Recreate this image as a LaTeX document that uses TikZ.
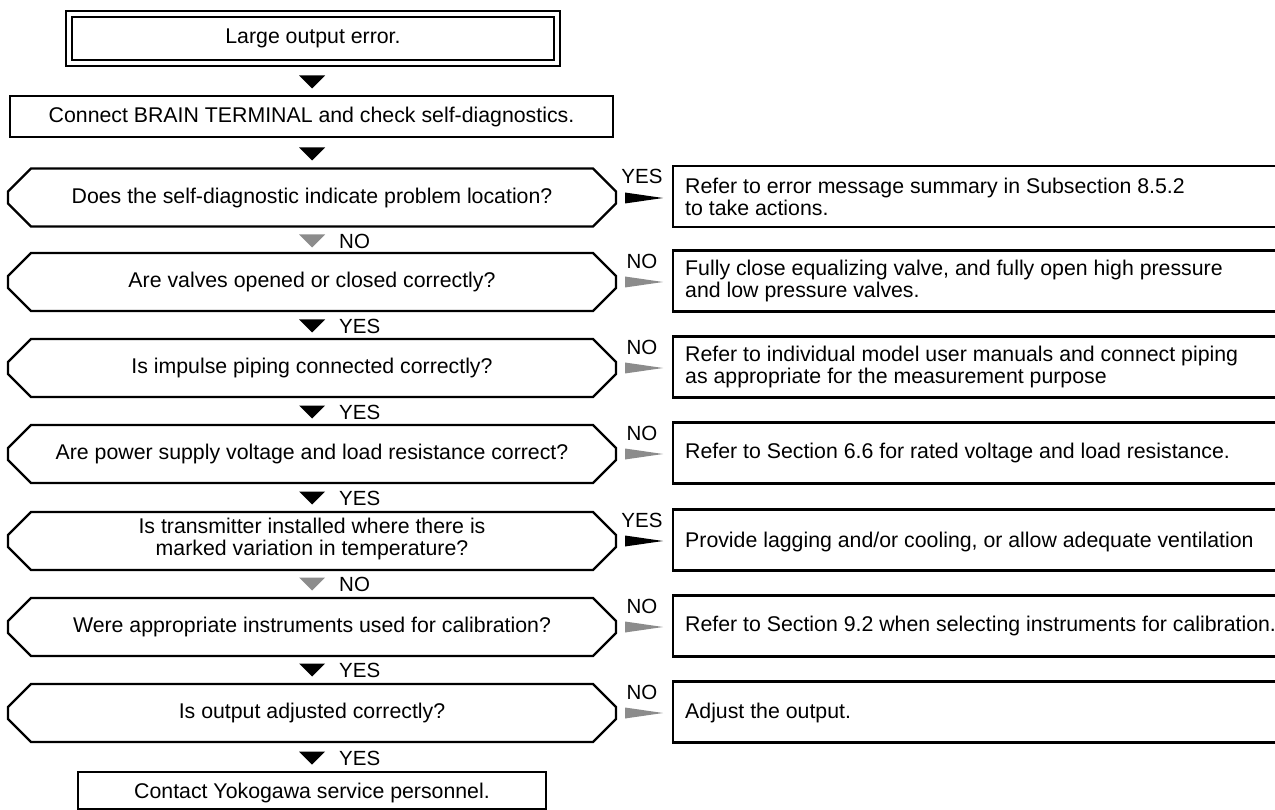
\documentclass[tikz,border=0pt]{standalone}
\usepackage{fontspec}
\setmainfont{Liberation Sans}
\begin{document}
\begin{tikzpicture}[x=1pt,y=-1pt]
\definecolor{arrgray}{gray}{0.55}
\tikzset{
  ln/.style={line width=2.3pt, line join=miter},
  txt/.style={font=\fontsize{21.3}{22}\selectfont, inner sep=0pt, align=center},
  rtxt/.style={font=\fontsize{21.3}{22}\selectfont, inner sep=0pt, align=left, anchor=west},
  lbl/.style={font=\fontsize{20.5}{22}\selectfont, inner sep=0pt},
}
\useasboundingbox (0,0) rectangle (1275,810);
\fill[white] (0,0) rectangle (1275,810);
% decision shape
\newcommand\decshape[1]{\draw[ln] (31,#1-29) -- (593,#1-29) -- (616,#1-6) -- (616,#1+6) -- (593,#1+29) -- (31,#1+29) -- (8,#1+6) -- (8,#1-6) -- cycle;}
\newcommand\rbox[1]{\draw[ln] (1278,#1-31.5) -- (673,#1-31.5) -- (673,#1+29.5) -- (1278,#1+29.5);}
\newcommand\rarr[2]{\fill[#2] (625,#1-5.5) -- (663,#1) -- (625,#1+5.5) -- cycle;}
\newcommand\darr[2]{\fill[#2] (299,#1-6.5) -- (325,#1-6.5) -- (312,#1+6.5) -- cycle;}

% top boxes
\draw[ln] (66,11) rectangle (560,66);
\draw[ln] (72,17) rectangle (554,60);
\node[txt] (start) at (313,38.5) {Large output error.};
\darr{82}{black}
\draw[ln] (10,96) rectangle (613,137);
\node[txt] (brain) at (311.5,116.5) {Connect BRAIN TERMINAL and check self-diagnostics.};
\darr{154}{black}

% row 1
\decshape{197.5}
\node[txt] (d1) at (312,197.5) {Does the self-diagnostic indicate problem location?};
\rarr{198}{black}
\node[lbl] (y1) at (642,176) {YES};
\rbox{197.5}
\node[rtxt] (r1) at (685,196.5) {Refer to error message summary in Subsection 8.5.2\\to take actions.};
\darr{241}{arrgray}
\node[lbl,anchor=west] (n1) at (339,241) {NO};

% row 2
\decshape{282}
\node[txt] (d2) at (312,282) {Are valves opened or closed correctly?};
\rarr{282}{arrgray}
\node[lbl] (y2) at (642,261) {NO};
\rbox{282}
\node[rtxt] (r2) at (685,281) {Fully close equalizing valve, and fully open high pressure\\and low pressure valves.};
\darr{326}{black}
\node[lbl,anchor=west] (n2) at (339,326) {YES};

% row 3
\decshape{368}
\node[txt] (d3) at (312,368) {Is impulse piping connected correctly?};
\rarr{368}{arrgray}
\node[lbl] (y3) at (642,347) {NO};
\rbox{368}
\node[rtxt] (r3) at (685,367) {Refer to individual model user manuals and connect piping\\as appropriate for the measurement purpose};
\darr{412}{black}
\node[lbl,anchor=west] (n3) at (339,412) {YES};

% row 4
\decshape{454}
\node[txt] (d4) at (312,454) {Are power supply voltage and load resistance correct?};
\rarr{454}{arrgray}
\node[lbl] (y4) at (642,433) {NO};
\rbox{454}
\node[rtxt] (r4) at (685,453) {Refer to Section 6.6 for rated voltage and load resistance.};
\darr{498}{black}
\node[lbl,anchor=west] (n4) at (339,498) {YES};

% row 5
\decshape{541}
\node[txt] (d5) at (312,539) {Is transmitter installed where there is\\marked variation in temperature?};
\rarr{541}{black}
\node[lbl] (y5) at (642,520) {YES};
\rbox{541}
\node[rtxt] (r5) at (685,542) {Provide lagging and/or cooling, or allow adequate ventilation};
\darr{584}{arrgray}
\node[lbl,anchor=west] (n5) at (339,584) {NO};

% row 6
\decshape{627}
\node[txt] (d6) at (312,627) {Were appropriate instruments used for calibration?};
\rarr{627}{arrgray}
\node[lbl] (y6) at (642,606) {NO};
\rbox{627}
\node[rtxt] (r6) at (685,626) {Refer to Section 9.2 when selecting instruments for calibration.};
\darr{670}{black}
\node[lbl,anchor=west] (n6) at (339,670) {YES};

% row 7
\decshape{713}
\node[txt] (d7) at (312,713) {Is output adjusted correctly?};
\rarr{713}{arrgray}
\node[lbl] (y7) at (642,692) {NO};
\rbox{713}
\node[rtxt] (r7) at (685,713) {Adjust the output.};
\darr{758}{black}
\node[lbl,anchor=west] (n7) at (339,758) {YES};

% final
\draw[ln] (78,772) rectangle (546,809);
\node[txt] (end) at (312,793) {Contact Yokogawa service personnel.};
\end{tikzpicture}
\end{document}
